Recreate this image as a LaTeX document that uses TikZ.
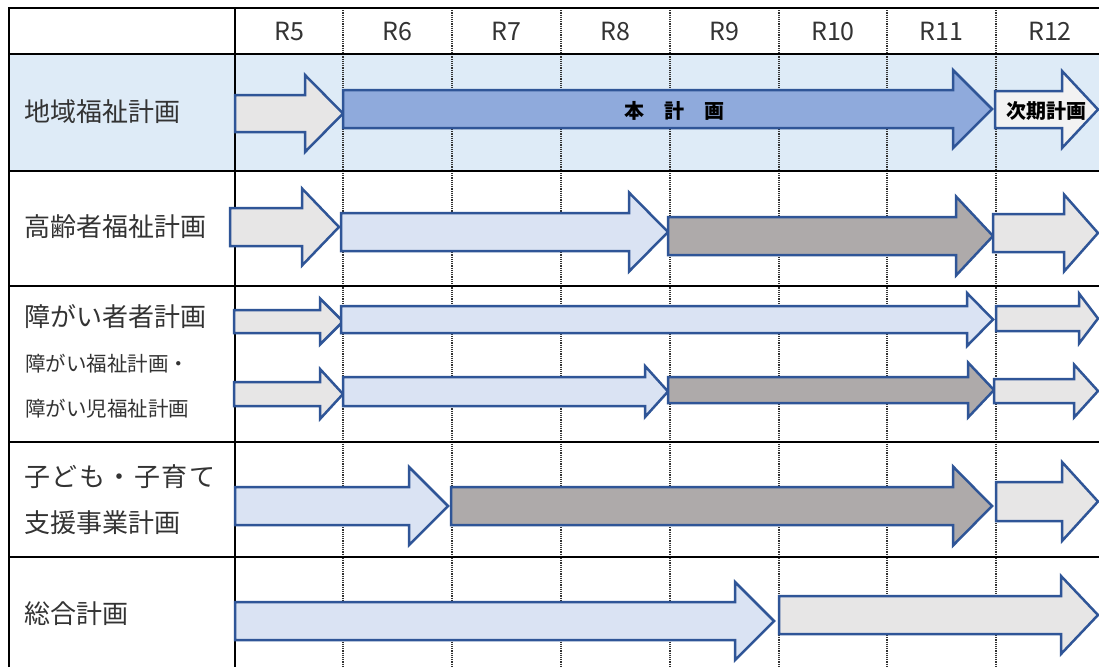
\documentclass[tikz,border=0pt]{standalone}
\usepackage{fontspec}
\setmainfont{Noto Sans CJK JP}
\definecolor{rowblue}{HTML}{DEEBF7}
\definecolor{edgeblue}{HTML}{2F5597}
\definecolor{mainblue}{HTML}{8FAADC}
\definecolor{paleblue}{HTML}{DAE3F3}
\definecolor{lgray}{HTML}{E7E6E6}
\definecolor{dgray}{HTML}{AEAAAA}
\definecolor{wgray}{HTML}{F2F2F2}
\definecolor{txt}{HTML}{333333}
\tikzset{
  tabline/.style={line width=2.8pt, black},
  gridline/.style={line width=2.2pt, black!80, dash pattern=on 1.2pt off 1pt},
  arr/.style={line width=2.5pt, draw=edgeblue, line join=miter},
  lbl/.style={anchor=west, inner sep=0pt, text=txt, font=\fontsize{26}{30}\selectfont},
  lbls/.style={anchor=west, inner sep=0pt, text=txt, font=\fontsize{20.5}{24}\selectfont},
  hdr/.style={inner sep=0pt, text=txt, font=\fontsize{25}{28}\selectfont},
  arrtxt/.style={inner sep=0pt, text=black, font=\bfseries\fontsize{20}{22}\selectfont}
}
% \parrow{style}{x0}{xbase}{xtip}{ycenter}{body half}{head half}
\newcommand{\parrow}[7]{%
  \draw[arr,#1] (#2,#5-#6) -- (#3,#5-#6) -- (#3,#5-#7) -- (#4,#5) -- (#3,#5+#7)
     -- (#3,#5+#6) -- (#2,#5+#6) -- cycle;}
\begin{document}
\begin{tikzpicture}[x=1pt,y=-1pt]
\useasboundingbox (0,0) rectangle (1099,667);
\fill[white] (0,0) rectangle (1099,667);
% row 1 background
\fill[rowblue] (9,54) rectangle (1099,171);
% dotted grid lines
\foreach \x in {343,452,561,670,779,887,996}
  \draw[gridline] (\x,8) -- (\x,667);
% table lines
\draw[tabline] (9,667) -- (9,8) -- (1099,8);
\draw[tabline] (235,8) -- (235,667);
\foreach \y in {54,171,286,442,557}
  \draw[tabline] (9,\y) -- (1099,\y);
% header
\node[hdr] (h5) at (289,31) {R5};
\node[hdr] (h6) at (397.5,31) {R6};
\node[hdr] (h7) at (506.5,31) {R7};
\node[hdr] (h8) at (615.5,31) {R8};
\node[hdr] (h9) at (724.5,31) {R9};
\node[hdr] (h10) at (833,31) {R10};
\node[hdr] (h11) at (941.5,31) {R11};
\node[hdr] (h12) at (1050,31) {R12};
% row labels
\node[lbl] (l1) at (24,112) {地域福祉計画};
\node[lbl] (l2) at (24,227) {高齢者福祉計画};
\node[lbl] (l3) at (24,317) {障がい者者計画};
\node[lbls] (l3b) at (25,364) {障がい福祉計画・};
\node[lbls] (l3c) at (25,409) {障がい児福祉計画};
\node[lbl] (l4a) at (24,477) {子\kern1.5ptど\kern1.5ptも\kern1.5pt・\kern1.5pt子\kern1.5pt育\kern1.5ptて};
\node[lbl] (l4b) at (24,523) {支援事業計画};
\node[lbl] (l5) at (24,614) {総合計画};
% row 1 arrows
\parrow{fill=lgray}{235}{305}{343}{113.5}{18.5}{38.5}
\parrow{fill=mainblue}{343}{953}{992}{109}{19}{39}
\parrow{fill=wgray}{995}{1062}{1098}{109.5}{18.5}{38.5}
\node[arrtxt] (t1) at (674,111) {本　計　画};
\node[arrtxt] (t2) at (1046,111) {次期計画};
% row 2 arrows
\parrow{fill=lgray}{230}{302}{339}{227}{19}{38.5}
\parrow{fill=paleblue}{341}{629}{668}{232}{19}{39.5}
\parrow{fill=dgray}{668}{956}{993}{236}{19}{39.5}
\parrow{fill=lgray}{993}{1064}{1098}{233}{19}{38.5}
% row 3 upper
\parrow{fill=lgray}{234}{320}{343}{321.5}{11.5}{23}
\parrow{fill=paleblue}{341}{967}{993}{319.5}{13.5}{26.5}
\parrow{fill=lgray}{996}{1079}{1098}{318.5}{12.5}{25}
% row 3 lower
\parrow{fill=lgray}{234}{320}{343}{394}{12}{25}
\parrow{fill=paleblue}{343}{645}{668}{391.5}{14.5}{25.5}
\parrow{fill=dgray}{668}{968}{994}{390}{13}{27.5}
\parrow{fill=lgray}{994}{1074}{1098}{391}{12}{26.5}
% row 4
\parrow{fill=paleblue}{235}{409}{448}{506}{19}{39}
\parrow{fill=dgray}{451}{953}{992}{506}{19}{39.5}
\parrow{fill=lgray}{996}{1062}{1098}{501.5}{19.5}{39.5}
% row 5
\parrow{fill=paleblue}{235}{735}{774}{621}{19}{39}
\parrow{fill=lgray}{779}{1061}{1098}{615}{19}{39}
\end{tikzpicture}
\end{document}
